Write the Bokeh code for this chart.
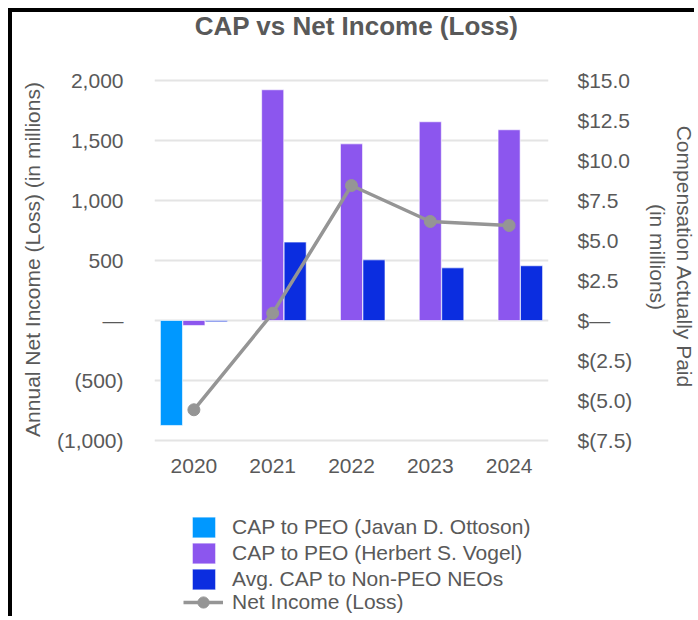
from bokeh.plotting import figure
from bokeh.models import (ColumnDataSource, FactorRange, Range1d, LinearAxis, FixedTicker,
                          Legend, LegendItem, Label, Title)
from bokeh.transform import dodge
from bokeh.embed import file_html
from bokeh.resources import INLINE

# ---- data ----
years = ["2020", "2021", "2022", "2023", "2024"]
cap_ottoson = [-6.56, float("nan"), float("nan"), float("nan"), float("nan")]
cap_vogel = [-0.31, 14.42, 11.04, 12.42, 11.92]
cap_non_peo = [-0.08, 4.90, 3.79, 3.29, 3.42]
net_income = [-744, 61, 1125, 825, 792]

left_ticks = [-1000, -500, 0, 500, 1000, 1500, 2000]
left_labels = ["(1,000)", "(500)", "—", "500", "1,000", "1,500", "2,000"]
right_ticks = [-7.5, -5.0, -2.5, 0.0, 2.5, 5.0, 7.5, 10.0, 12.5, 15.0]
right_labels = ["$(7.5)", "$(5.0)", "$(2.5)", "$—", "$2.5", "$5.0", "$7.5", "$10.0", "$12.5", "$15.0"]

series_names = ["CAP to PEO (Javan D. Ottoson)", "CAP to PEO (Herbert S. Vogel)",
                "Avg. CAP to Non-PEO NEOs", "Net Income (Loss)"]
title_text = "CAP vs Net Income (Loss)"
left_title = "Annual Net Income (Loss) (in millions)"
right_title_1 = "Compensation Actually Paid"
right_title_2 = "(in millions)"

FONT = "Liberation Sans"
TXT = "#595959"
C_OTT = "#0098FF"
C_VOG = "#8C56EE"
C_NON = "#0B2DE0"
C_LINE = "#959595"

src = ColumnDataSource(dict(year=years, ott=cap_ottoson, vog=cap_vogel, non=cap_non_peo, ni=net_income))

W, H = 686, 608
FL, FR = 141, 536

p = figure(x_range=FactorRange(*years), y_range=Range1d(-2500, 2000 + 68 / 0.12),
           width=W, height=H, output_backend="svg", toolbar_location=None,
           min_border_left=FL, min_border_right=W - FR, min_border_top=0, min_border_bottom=0)
p.styles = {"margin-left": "8px", "margin-top": "8px",
            "border-left": "4px solid black", "border-top": "4px solid black"}
p.outline_line_color = None
p.background_fill_color = "white"
p.border_fill_color = "white"

p.extra_y_ranges = {"cap": Range1d(-18.75, 15 + 68 / 16)}

p.yaxis.ticker = FixedTicker(ticks=left_ticks)
p.yaxis.major_label_overrides = {t: l for t, l in zip(left_ticks, left_labels)}
p.yaxis.bounds = (-1000, 2000)
ra = LinearAxis(y_range_name="cap", ticker=FixedTicker(ticks=right_ticks),
                major_label_overrides={t: l for t, l in zip(right_ticks, right_labels)},
                bounds=(-7.5, 15))
p.add_layout(ra, "right")
p.xaxis.fixed_location = -1000

for ax in [p.yaxis[0], ra, p.xaxis[0]]:
    ax.axis_line_color = None
    ax.major_tick_line_color = None
    ax.minor_tick_line_color = None
    ax.major_tick_in = 0
    ax.major_tick_out = 0
    ax.minor_tick_in = 0
    ax.minor_tick_out = 0
    ax.major_label_text_font = FONT
    ax.major_label_text_font_size = "21px"
    ax.major_label_text_color = TXT

p.yaxis[0].major_label_standoff = 31
ra.major_label_standoff = 29
p.xaxis.major_label_standoff = 18

# axis titles as side titles
def side_title(text, offset, standoff, valign):
    return Title(text=text, align="left", offset=offset, standoff=standoff, vertical_align=valign,
                 text_font=FONT, text_font_size="21px", text_font_style="normal", text_color=TXT)

p.add_layout(side_title(left_title, 183.6, 16, "top"), "left")
p.add_layout(side_title(right_title_2, 191.4, 18, "middle"), "right")
p.add_layout(side_title(right_title_1, 113.2, -14, "middle"), "right")

p.xgrid.grid_line_color = None
p.ygrid.ticker = FixedTicker(ticks=left_ticks)
p.ygrid.grid_line_color = "#e4e4e4"
p.ygrid.grid_line_width = 2

bw = 0.28
r_ott = p.vbar(x=dodge("year", -0.285, range=p.x_range), top="ott", bottom=0, width=bw, source=src,
               y_range_name="cap", fill_color=C_OTT, line_color="white", line_alpha=0.6, line_width=1)
r_vog = p.vbar(x=dodge("year", 0.0, range=p.x_range), top="vog", bottom=0, width=bw, source=src,
               y_range_name="cap", fill_color=C_VOG, line_color="white", line_alpha=0.6, line_width=1)
r_non = p.vbar(x=dodge("year", 0.285, range=p.x_range), top="non", bottom=0, width=bw, source=src,
               y_range_name="cap", fill_color=C_NON, line_color="white", line_alpha=0.6, line_width=1)

r_line = p.line(x="year", y="ni", source=src, line_color=C_LINE, line_width=3.5)
r_pts = p.scatter(x="year", y="ni", source=src, size=12, marker="circle",
                  fill_color=C_LINE, line_color=C_LINE)

# chart title (inside the tall frame, above the plotting area)
p.add_layout(Label(x=202, y=H - 13.5, x_units="screen", y_units="screen", text=title_text,
                   text_align="center", text_baseline="alphabetic", text_font=FONT,
                   text_font_size="26px", text_font_style="bold", text_color=TXT))

leg1 = Legend(items=[LegendItem(label=series_names[0], renderers=[r_ott]),
                     LegendItem(label=series_names[1], renderers=[r_vog]),
                     LegendItem(label=series_names[2], renderers=[r_non])],
              location=(35, 28), glyph_width=29, glyph_height=26, spacing=0,
              label_standoff=14, padding=0, margin=0, border_line_color=None,
              background_fill_alpha=0, label_text_font=FONT, label_text_font_size="21px",
              label_text_color=TXT)
leg2 = Legend(items=[LegendItem(label=series_names[3], renderers=[r_line, r_pts])],
              location=(29, 4), glyph_width=40, glyph_height=28, spacing=0,
              label_standoff=9, padding=0, margin=0, border_line_color=None,
              background_fill_alpha=0, label_text_font=FONT, label_text_font_size="21px",
              label_text_color=TXT)
p.add_layout(leg1)
p.add_layout(leg2)

open("out.html", "w").write(file_html(p, INLINE))
